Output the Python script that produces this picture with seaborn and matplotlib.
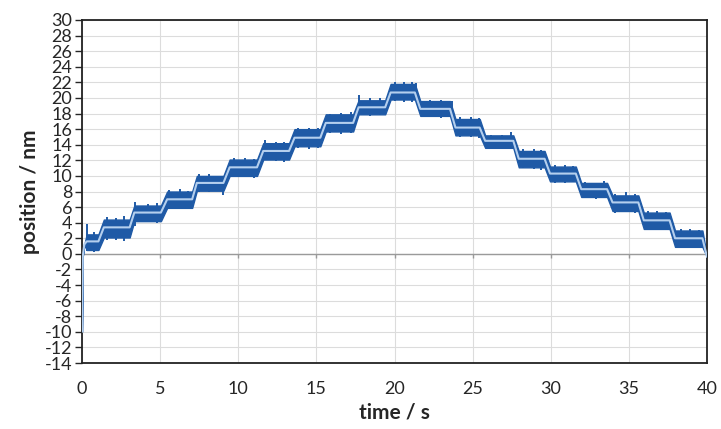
import matplotlib
matplotlib.use('Agg')
import matplotlib.pyplot as plt
import seaborn as sns
import numpy as np
import pandas as pd

sns.set_style('white')
plt.rcParams['font.family'] = ['Lato', 'DejaVu Sans']
plt.rcParams['axes.unicode_minus'] = False

# step plateaus (time in s, position in nm)
step_start = [0.3, 1.4, 3.35, 5.45, 7.35, 9.45, 11.6, 13.6, 15.6, 17.7,
              19.75, 21.65, 23.9, 25.8, 27.95, 29.95, 31.95, 33.95, 35.95, 37.95]
step_end = [1.05, 3.05, 5.05, 7.05, 9.05, 11.2, 13.25, 15.25, 17.35, 19.4,
            21.3, 23.55, 25.45, 27.6, 29.6, 31.6, 33.6, 35.6, 37.6, 39.7]
step_level = [1.6, 3.4, 5.3, 7.0, 9.1, 11.1, 13.2, 14.9, 16.8, 18.8,
              20.7, 18.6, 16.2, 14.5, 12.2, 10.3, 8.3, 6.6, 4.3, 2.0]
# spread of the raw (noisy) signal around each plateau
band_below = [1.1, 1.3, 1.1, 1.1, 1.0, 1.1, 1.1, 1.1, 1.1, 0.9,
              0.9, 0.9, 1.0, 0.9, 1.1, 1.0, 1.0, 1.1, 1.1, 1.1]
band_above = [0.9, 1.0, 0.9, 1.0, 0.9, 1.0, 1.0, 1.1, 1.1, 0.9,
              1.1, 1.0, 1.1, 0.7, 1.0, 0.9, 0.8, 0.9, 1.0, 1.0]
# lead-in and tail of the trace
start_t = [0.0, 0.05, 0.15]
start_y = [-10.0, -0.3, 1.2]
end_t = [40.0]
end_y = [-0.4]
# isolated spikes of the raw signal
spike_t = [0.35, 0.8, 1.6, 2.2, 2.7, 3.4, 4.2, 4.8, 5.6, 6.3, 6.8, 7.5, 8.1,
           9.0, 9.7, 10.4, 11.0, 11.7, 12.4, 12.9, 13.8, 14.5, 15.1, 15.9,
           16.6, 17.2, 17.75, 18.4, 19.1, 20.0, 20.6, 21.1, 21.4, 22.3, 23.0,
           23.7, 24.2, 24.9, 25.4, 26.2, 26.9, 27.45, 28.2, 28.9, 29.4, 30.3,
           30.9, 31.4, 32.2, 32.9, 33.4, 34.1, 34.8, 35.4, 36.2, 36.8, 37.4,
           38.3, 38.9, 39.5]
spike_lo = [0.4, 0.3, 1.8, 1.8, 1.7, 3.6, 4.1, 4.0, 5.7, 5.7, 5.8, 7.9, 7.9,
            7.6, 9.8, 9.8, 9.7, 12.0, 11.9, 11.8, 13.6, 13.5, 13.6, 15.5,
            15.4, 15.5, 17.8, 17.7, 17.8, 19.6, 19.5, 19.5, 19.6, 17.5, 17.4,
            17.2, 15.0, 15.0, 14.9, 13.6, 13.7, 13.8, 11.0, 10.9, 10.8, 9.1,
            9.1, 9.2, 7.2, 7.1, 7.2, 5.3, 5.4, 5.3, 3.0, 3.1, 3.0, 0.8, 0.7,
            0.8]
spike_hi = [3.8, 2.8, 4.7, 4.6, 4.8, 6.7, 6.4, 6.5, 8.2, 8.3, 8.1, 10.2, 10.3,
            10.0, 12.3, 12.3, 12.2, 14.6, 14.4, 14.3, 16.1, 16.2, 16.2, 18.0,
            18.1, 18.2, 20.4, 20.0, 20.0, 22.0, 22.0, 22.1, 21.9, 19.8, 19.8,
            19.6, 17.5, 17.5, 17.4, 15.2, 15.3, 15.6, 13.4, 13.5, 13.3, 11.4,
            11.4, 11.3, 9.2, 9.1, 9.3, 7.7, 8.0, 7.7, 5.5, 5.5, 5.4, 3.2, 3.2,
            3.1]

dark = '#1f5aa6'
light = '#b4cfee'

t = start_t + [v for s, e in zip(step_start, step_end) for v in (s, e)] + end_t
mean = start_y + [v for lv in step_level for v in (lv, lv)] + end_y
lo = start_y + [v for lv, b in zip(step_level, band_below) for v in (lv - b, lv - b)] + end_y
hi = start_y + [v for lv, b in zip(step_level, band_above) for v in (lv + b, lv + b)] + end_y
df = pd.DataFrame({'time': t, 'position': mean, 'lo': lo, 'hi': hi})

fig = plt.figure(figsize=(7.21, 4.29), dpi=100)
ax = fig.add_axes([0.1137, 0.1538, 0.867, 0.7996])

ax.set_xticks(np.arange(0, 41, 5))
ax.set_yticks(np.arange(-14, 31, 2))
ax.grid(True, color='#dcdcdc', linewidth=0.8)
ax.set_axisbelow(True)
ax.axhline(0, color='#9a9a9a', linewidth=1.0, zorder=1)
ax.vlines(np.arange(0, 41, 5), -0.55, 0, color='#9a9a9a', linewidth=1.0, zorder=1)

ax.fill_between(df['time'], df['lo'], df['hi'], color=dark, linewidth=1.0,
                edgecolor=dark, zorder=2)
ax.vlines(spike_t, spike_lo, spike_hi, color=dark, linewidth=1.4, zorder=2)
sns.lineplot(data=df, x='time', y='position', color=light, linewidth=1.5,
             ax=ax, zorder=3)

ax.set_xlim(0, 40)
ax.set_ylim(-14, 30)
ax.tick_params(axis='y', direction='out', length=5, width=1, labelsize=13,
               left=True, pad=2)
ax.tick_params(axis='x', length=0, labelsize=13, pad=13)
for sp in ax.spines.values():
    sp.set_visible(True)
    sp.set_color('#222222')
    sp.set_linewidth(1.3)

ax.set_xlabel('time / s', fontsize=15, fontweight='bold', labelpad=4)
ax.set_ylabel('position / nm', fontsize=15, fontweight='bold', labelpad=3)

fig.savefig('out.png', dpi=100)
